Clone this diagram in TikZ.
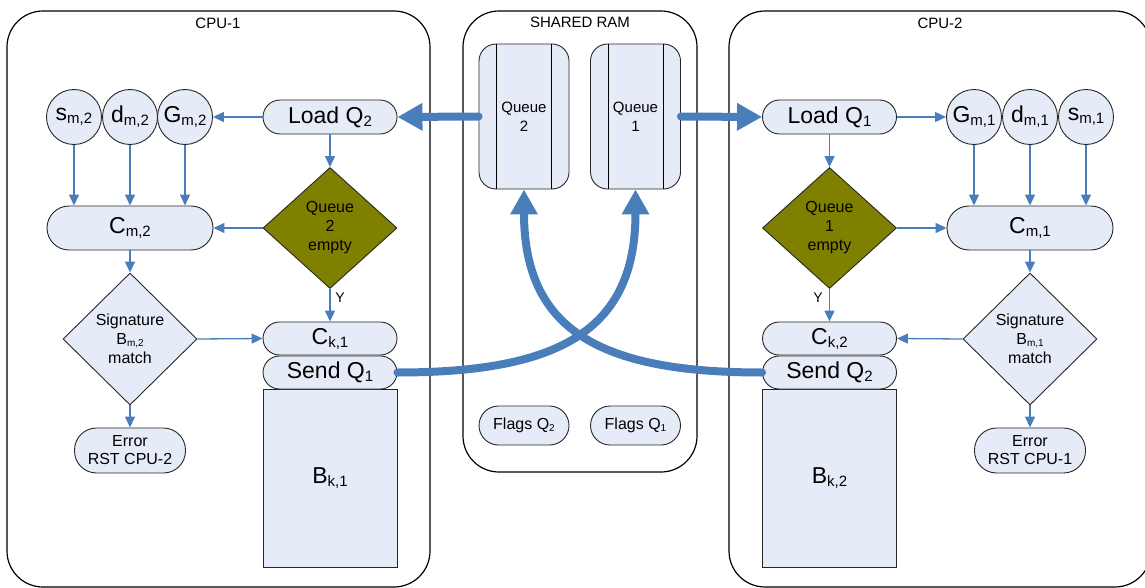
\documentclass[tikz,border=0pt]{standalone}
\usepackage{fontspec}
\setmainfont{Liberation Sans}
\usetikzlibrary{shapes.geometric,arrows.meta}
\definecolor{boxfill}{HTML}{E6ECF7}
\definecolor{arrowblue}{HTML}{4A7EBB}
\definecolor{olivefill}{HTML}{808000}
\newcommand\bigsub[1]{{\fontsize{15}{15}\selectfont\raisebox{-3pt}{#1}}}
\newcommand\smallsub[1]{{\fontsize{10}{10}\selectfont\raisebox{-2pt}{#1}}}
\tikzset{
  container/.style={draw=black, line width=1.2pt, rounded corners=36pt, minimum width=#1, inner sep=0pt},
  lbl/.style={font=\fontsize{15}{15}\selectfont, inner sep=0pt},
  pill/.style={draw=black!85, line width=0.9pt, fill=boxfill, inner sep=0pt},
  circ/.style={circle, draw=black!85, line width=0.9pt, fill=boxfill, minimum size=55pt, inner sep=0pt, font=\fontsize{23}{23}\selectfont},
  dia/.style={diamond, draw=black!85, line width=0.9pt, inner sep=0pt, minimum width=134pt, align=center, font=\fontsize{16}{19}\selectfont},
  bigtext/.style={font=\fontsize{23}{23}\selectfont},
  midtext/.style={font=\fontsize{16}{18}\selectfont, align=center},
  thin/.style={draw=arrowblue, line width=1.3pt, -{Triangle[width=10pt,length=11pt]}},
  thick/.style={draw=arrowblue, line width=8pt, line cap=round, -{Triangle[width=26pt,length=25pt]}},
}
\begin{document}
\begin{tikzpicture}[x=1pt,y=-1pt]
\path[use as bounding box] (0,0) rectangle (1145,588);
\clip (0,0) rectangle (1145,588);

% containers
\node[container=423pt, minimum height=576pt] (cpu1) at (218.5,299) {};
\node[container=422pt, minimum height=576pt] (cpu2) at (940,299) {};
\node[container=234pt, minimum height=461pt] (ram) at (580,241.5) {};
\node[lbl] (cpu1lbl) at (218,23) {CPU-1};
\node[lbl] (cpu2lbl) at (940,23) {CPU-2};
\node[lbl] (ramlbl) at (580,22) {SHARED RAM};

% ---------- CPU-1 ----------
\node[pill, rounded corners=17pt, minimum width=134pt, minimum height=34pt, bigtext] (load2) at (330,117) {Load Q\bigsub{2}};
\node[dia, fill=olivefill, minimum height=121pt] (q2empty) at (330,228) {Queue\\2\\empty};
\node[pill, rounded corners=22pt, minimum width=166pt, minimum height=44pt, bigtext] (Cm2) at (130,228) {C\bigsub{m,2}};
\node[circ] (sm2) at (74,117) {s\bigsub{m,2}};
\node[circ] (dm2) at (130,117) {d\bigsub{m,2}};
\node[circ] (Gm2) at (185,117) {G\bigsub{m,2}};
\node[dia, fill=boxfill, minimum height=132pt] (sig2) at (130,339) {Signature\\B\smallsub{m,2}\\match};
\node[pill, rounded corners=22pt, minimum width=111pt, minimum height=45pt, midtext] (err2) at (130,450.5) {Error\\RST CPU-2};
\node[pill, minimum width=134pt, minimum height=178pt, bigtext] (Bk1) at (330,478) {B\bigsub{k,1}};
\node[pill, rounded corners=16.5pt, minimum width=134pt, minimum height=33pt, bigtext] (send1) at (330,372.5) {Send Q\bigsub{1}};
\node[pill, rounded corners=16.5pt, minimum width=134pt, minimum height=33pt, bigtext] (Ck1) at (330,338.5) {C\bigsub{k,1}};
\node[lbl, font=\fontsize{14}{14}\selectfont] (y1) at (340,298) {Y};

% ---------- CPU-2 ----------
\node[pill, rounded corners=17pt, minimum width=134pt, minimum height=34pt, bigtext] (load1) at (829.5,117) {Load Q\bigsub{1}};
\node[dia, fill=olivefill, minimum height=121pt] (q1empty) at (829.5,228) {Queue\\1\\empty};
\node[pill, rounded corners=22pt, minimum width=166pt, minimum height=44pt, bigtext] (Cm1) at (1030,228) {C\bigsub{m,1}};
\node[circ] (Gm1) at (974,117) {G\bigsub{m,1}};
\node[circ] (dm1) at (1030,117) {d\bigsub{m,1}};
\node[circ] (sm1) at (1086,117) {s\bigsub{m,1}};
\node[dia, fill=boxfill, minimum height=132pt] (sig1) at (1030,339) {Signature\\B\smallsub{m,1}\\match};
\node[pill, rounded corners=22pt, minimum width=111pt, minimum height=45pt, midtext] (err1) at (1030,450.5) {Error\\RST CPU-1};
\node[pill, minimum width=134pt, minimum height=178pt, bigtext] (Bk2) at (829.5,478) {B\bigsub{k,2}};
\node[pill, rounded corners=16.5pt, minimum width=134pt, minimum height=33pt, bigtext] (send2) at (829.5,372.5) {Send Q\bigsub{2}};
\node[pill, rounded corners=16.5pt, minimum width=134pt, minimum height=33pt, bigtext] (Ck2) at (829.5,338.5) {C\bigsub{k,2}};
\node[lbl, font=\fontsize{14}{14}\selectfont] (y2) at (818,298) {Y};

% ---------- SHARED RAM ----------
\node[pill, rounded corners=17pt, minimum width=90pt, minimum height=145pt, midtext, font=\fontsize{15}{19}\selectfont] (q2) at (524,116.5) {Queue\\2};
\node[pill, rounded corners=17pt, minimum width=90pt, minimum height=145pt, midtext, font=\fontsize{15}{19}\selectfont] (q1) at (635.5,116.5) {Queue\\1};
\draw[black, line width=0.9pt] ([xshift=18pt]q2.north west) -- ([xshift=18pt]q2.south west);
\draw[black, line width=0.9pt] ([xshift=-18pt]q2.north east) -- ([xshift=-18pt]q2.south east);
\draw[black, line width=0.9pt] ([xshift=18pt]q1.north west) -- ([xshift=18pt]q1.south west);
\draw[black, line width=0.9pt] ([xshift=-18pt]q1.north east) -- ([xshift=-18pt]q1.south east);
\node[pill, rounded corners=19.5pt, minimum width=90pt, minimum height=39pt, font=\fontsize{16}{16}\selectfont] (flags2) at (524,425.5) {Flags Q\smallsub{2}};
\node[pill, rounded corners=19.5pt, minimum width=90pt, minimum height=39pt, font=\fontsize{16}{16}\selectfont] (flags1) at (635.5,425.5) {Flags Q\smallsub{1}};

% ---------- thin arrows CPU-1 ----------
\draw[thin] (load2.west) -- (Gm2.east);
\draw[thin] (load2.south) -- (q2empty.north);
\draw[thin] (q2empty.west) -- (Cm2.east);
\draw[thin] (sm2.south) -- (sm2.south |- Cm2.north);
\draw[thin] (dm2.south) -- (dm2.south |- Cm2.north);
\draw[thin] (Gm2.south) -- (Gm2.south |- Cm2.north);
\draw[thin] (Cm2.south) -- (sig2.north);
\draw[thin] (q2empty.south) -- (Ck1.north);
\draw[thin] (sig2.east) -- (Ck1.west);
\draw[thin] (sig2.south) -- (err2.north);

% ---------- thin arrows CPU-2 ----------
\draw[thin] (load1.east) -- (Gm1.west);
\draw[thin] (load1.south) -- (q1empty.north);
\draw[thin] (q1empty.east) -- (Cm1.west);
\draw[thin] (Gm1.south) -- (Gm1.south |- Cm1.north);
\draw[thin] (dm1.south) -- (dm1.south |- Cm1.north);
\draw[thin] (sm1.south) -- (sm1.south |- Cm1.north);
\draw[thin] (Cm1.south) -- (sig1.north);
\draw[thin] (q1empty.south) -- (Ck2.north);
\draw[thin] (sig1.west) -- (Ck2.east);
\draw[thin] (sig1.south) -- (err1.north);

% ---------- thick arrows ----------
\draw[thick] (q2.west) -- (load2.east);
\draw[thick] (q1.east) -- (load1.west);
\draw[thick] (send1.east) .. controls (560,372.5) and (635.5,330) .. (q1.south);
\draw[thick] (send2.west) .. controls (600,372.5) and (524,330) .. (q2.south);
\end{tikzpicture}
\end{document}
